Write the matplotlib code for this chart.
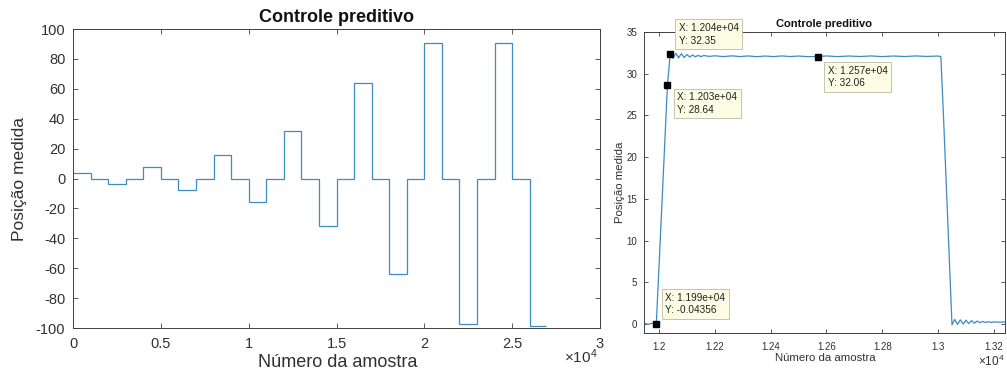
import matplotlib
matplotlib.use("Agg")
import matplotlib.pyplot as plt
from matplotlib.ticker import FuncFormatter, FixedLocator

plt.rcParams['font.family'] = ['Liberation Sans', 'DejaVu Sans']
plt.rcParams['mathtext.fontset'] = 'custom'
plt.rcParams['mathtext.rm'] = 'Liberation Sans'
plt.rcParams['mathtext.it'] = 'Liberation Sans:italic'

# ---------------- data ----------------
# Left panel: step reference/response levels over 1000-sample segments
seg_edges = [0, 1000, 2000, 3000, 4000, 5000, 6000, 7000, 8000, 9000, 10000,
             11000, 12000, 13000, 14000, 15000, 16000, 17000, 18000, 19000,
             20000, 21000, 22000, 23000, 24000, 25000, 26000, 26900]
seg_levels = [4, 0, -4, 0, 8, 0, -8, 0, 16, 0, -16, 0, 32, 0, -32, 0, 64, 0,
              -64, 0, 90.5, 0, -97, 0, 90.5, 0, -98.5]

# Right panel: zoom on the step to 32
zoom_x = [11946, 11960, 11975, 11990, 12000, 12010, 12020, 12030, 12040, 12050,
          12060, 12070, 12080, 12090, 12100, 12110, 12120, 12130, 12140, 12150,
          12160, 12180, 12200, 12230, 12260, 12290, 12320, 12350, 12380, 12410,
          12440, 12470, 12500, 12530, 12570, 12600, 12640, 12680, 12720, 12760,
          12800, 12840, 12880, 12920, 12960, 13000, 13010, 13020, 13030, 13040,
          13050, 13060, 13070, 13080, 13090, 13100, 13110, 13120, 13130, 13140,
          13150, 13160, 13170, 13180, 13190, 13200, 13220, 13240]
zoom_y = [0.1, -0.05, 0.08, -0.04356, 7.0, 14.2, 21.4, 28.64, 32.35, 31.85,
          32.45, 31.9, 32.4, 31.95, 32.3, 32.0, 32.25, 32.02, 32.2, 32.05,
          32.18, 32.08, 32.15, 32.05, 32.14, 32.06, 32.13, 32.04, 32.12, 32.05,
          32.13, 32.06, 32.12, 32.05, 32.06, 32.13, 32.05, 32.12, 32.06, 32.13,
          32.05, 32.12, 32.06, 32.13, 32.07, 32.12, 32.05, 24.5, 16.3, 8.1,
          -0.1, 0.55, -0.05, 0.5, 0.0, 0.45, 0.05, 0.4, 0.1, 0.35,
          0.15, 0.3, 0.18, 0.27, 0.2, 0.25, 0.22, 0.24]

# data tips
tip_x = [12040, 12030, 12570, 11990]
tip_y = [32.35, 28.64, 32.06, -0.04356]
tip_offsets = [(6, 6), (7, -5), (7, -6.5), (6.5, 6.5)]  # points
tip_va = ['bottom', 'top', 'top', 'bottom']

left_xticks = [0, 5000, 10000, 15000, 20000, 25000, 30000]
left_yticks = [-100, -80, -60, -40, -20, 0, 20, 40, 60, 80, 100]
right_xticks = [12000, 12200, 12400, 12600, 12800, 13000, 13200]
right_yticks = [0, 5, 10, 15, 20, 25, 30, 35]

title = "Controle preditivo"
xlabel = "Número da amostra"
ylabel = "Posição medida"

# ---------------- styling ----------------
LINE = '#3b8cc2'
AXC = '#404040'
TXT = '#303030'
W, H = 1007, 369

fig = plt.figure(figsize=(W / 100, H / 100), dpi=100)
ax1 = fig.add_axes([73 / W, 41 / H, 527 / W, 299 / H])
ax2 = fig.add_axes([644 / W, 36 / H, 361 / W, 301 / H])

fmt_sci4 = FuncFormatter(lambda v, p: f"{v / 1e4:g}")
fmt_plain = FuncFormatter(lambda v, p: f"{v:g}")

# ---- left panel ----
ax1.stairs(seg_levels, seg_edges, baseline=None, color=LINE, lw=0.9)
ax1.set_xlim(0, 30000)
ax1.set_ylim(-100, 100)
ax1.xaxis.set_major_locator(FixedLocator(left_xticks))
ax1.yaxis.set_major_locator(FixedLocator(left_yticks))
ax1.xaxis.set_major_formatter(fmt_sci4)
ax1.yaxis.set_major_formatter(fmt_plain)
ax1.tick_params(axis='both', direction='in', length=3.5, width=0.6,
                colors=AXC, labelcolor=TXT, labelsize=10.5,
                top=True, right=True)
ax1.tick_params(axis='x', pad=6.5)
ax1.tick_params(axis='y', pad=5.5)
ax1.set_title(title, fontsize=13, fontweight='bold', color='#111111', pad=5)
ax1.set_xlabel(xlabel, fontsize=13, color=TXT)
ax1.set_ylabel(ylabel, fontsize=12.5, color=TXT)
ax1.xaxis.set_label_coords(0.502, -0.087)
ax1.yaxis.set_label_coords(-0.087, 0.5)
ax1.text(0.996, -0.118, r'$\times\mathrm{10^{4}}$', transform=ax1.transAxes,
         ha='right', va='baseline', fontsize=11, color=TXT)

# ---- right panel ----
ax2.plot(zoom_x, zoom_y, color=LINE, lw=0.9)
ax2.set_xlim(11946, 13240)
ax2.set_ylim(-1.08, 35)
ax2.xaxis.set_major_locator(FixedLocator(right_xticks))
ax2.yaxis.set_major_locator(FixedLocator(right_yticks))
ax2.xaxis.set_major_formatter(fmt_sci4)
ax2.yaxis.set_major_formatter(fmt_plain)
ax2.tick_params(axis='both', direction='in', length=2.8, width=0.6,
                colors=AXC, labelcolor=TXT, labelsize=7,
                top=True, right=True)
ax2.tick_params(axis='x', pad=6.5)
ax2.tick_params(axis='y', pad=5)
ax2.set_title(title, fontsize=8, fontweight='bold', color='#111111', pad=3.6)
ax2.set_xlabel(xlabel, fontsize=8.2, color=TXT)
ax2.set_ylabel(ylabel, fontsize=8.2, color=TXT)
ax2.xaxis.set_label_coords(0.501, -0.066)
ax2.yaxis.set_label_coords(-0.052, 0.5)
ax2.text(0.998, -0.11, r'$\times\mathrm{10^{4}}$', transform=ax2.transAxes,
         ha='right', va='baseline', fontsize=8.5, color=TXT)

for tx, ty, off, va in zip(tip_x, tip_y, tip_offsets, tip_va):
    ax2.plot([tx], [ty], marker='s', ms=4.8, color='black', mec='black',
             ls='none', zorder=5, clip_on=False)
    ax2.annotate(f"X: {tx:.4g}\nY: {ty:.4g}", xy=(tx, ty), xytext=off,
                 textcoords='offset points', ha='left', va=va,
                 fontsize=7.2, color='#222222', linespacing=1.35,
                 annotation_clip=False, zorder=6,
                 bbox=dict(boxstyle='square,pad=0.35', fc='#fdfde6',
                           ec='#c4c4b0', lw=0.7))

for ax in (ax1, ax2):
    for s in ax.spines.values():
        s.set_color(AXC)
        s.set_linewidth(0.7)

fig.savefig('out.png', dpi=100)
